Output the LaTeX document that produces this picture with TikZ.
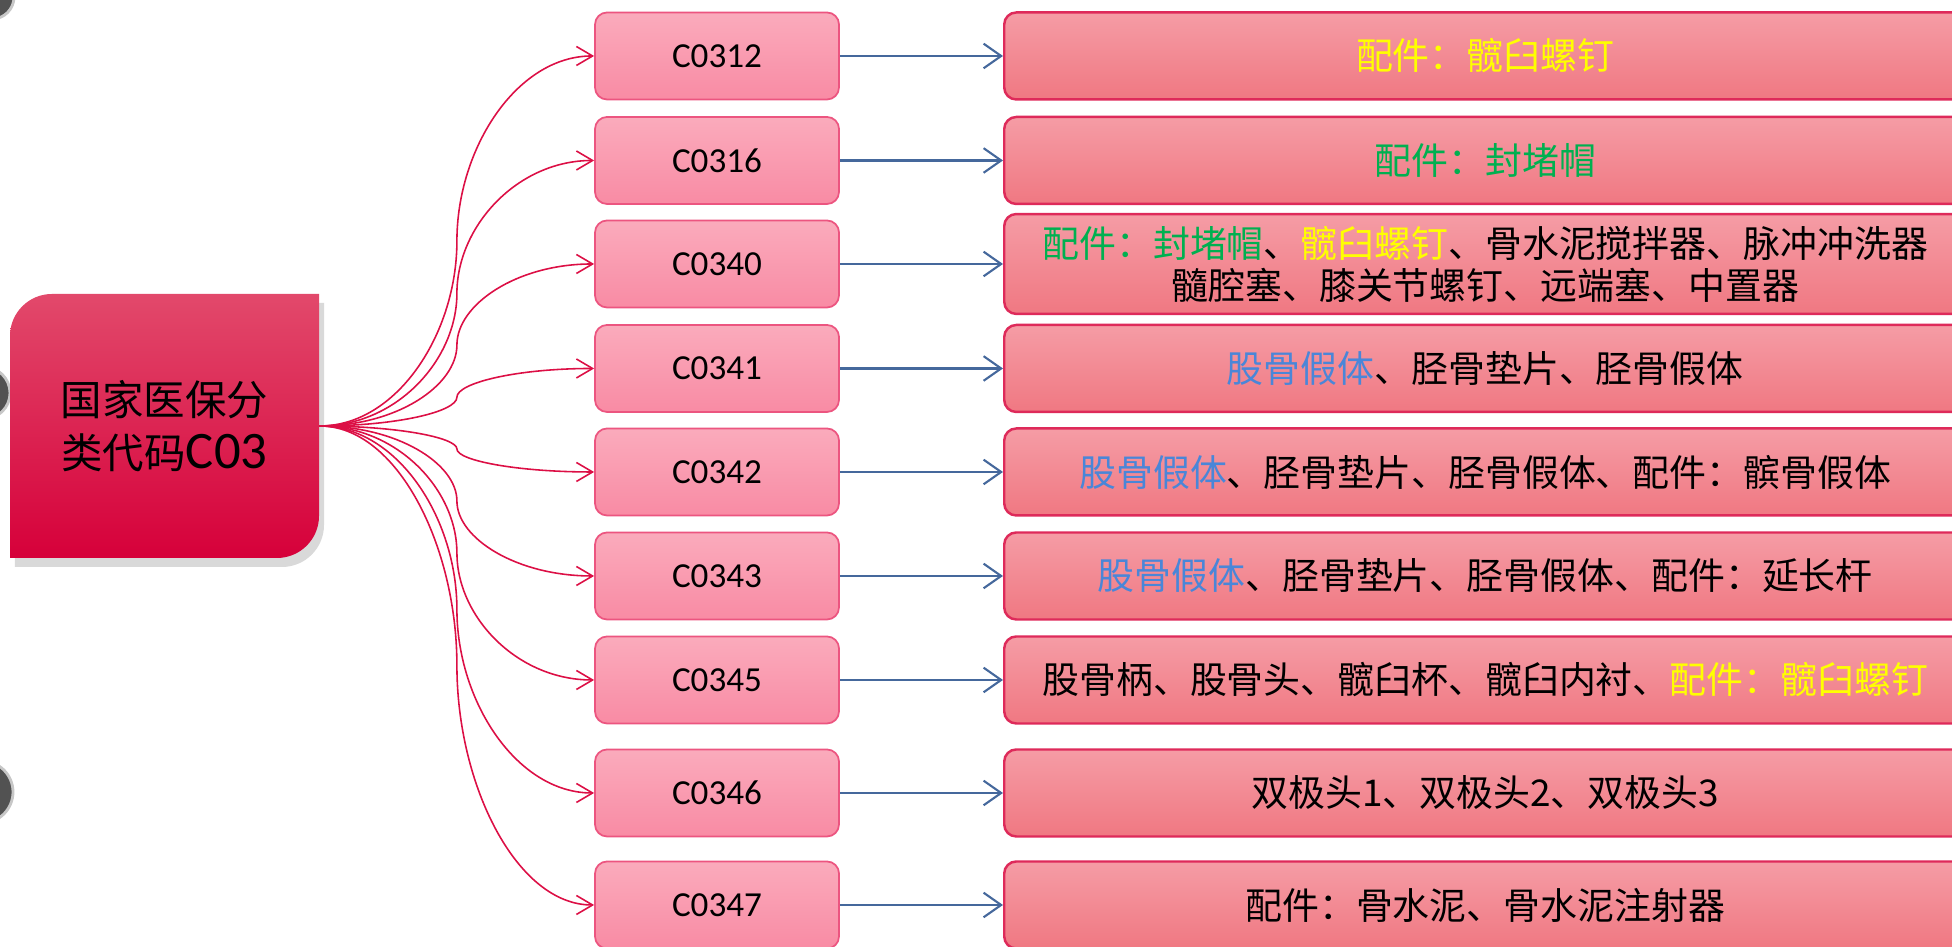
\documentclass[tikz,border=0pt]{standalone}
\usepackage{fontspec}
\usetikzlibrary{arrows.meta,calc,shadows}
\newfontfamily\cjkfont{Noto Sans CJK SC}
\newfontfamily\codefont{Carlito}
\definecolor{rootTop}{HTML}{E2496B}
\definecolor{rootBot}{HTML}{D6003A}
\definecolor{codeTop}{HTML}{FAABBC}
\definecolor{codeBot}{HTML}{F98BA4}
\definecolor{codeLine}{HTML}{EC5580}
\definecolor{itemTop}{HTML}{F59CA5}
\definecolor{itemBot}{HTML}{F07882}
\definecolor{itemLine}{HTML}{DE2A5A}
\definecolor{linkRed}{HTML}{DC0F45}
\definecolor{linkBlue}{HTML}{45689C}
\definecolor{accYellow}{HTML}{FFFF00}
\definecolor{accGreen}{HTML}{00B050}
\definecolor{accBlue}{HTML}{4A86D8}
\tikzset{
	codebox/.style={draw=codeLine, line width=0.5pt, rounded corners=1.2mm,
		top color=codeTop, bottom color=codeBot,
		minimum width=24.4mm, minimum height=8.7mm,
		font=\codefont\fontsize{10}{12}\selectfont},
	itembox/.style={draw=itemLine, line width=0.7pt, rounded corners=1.2mm,
		top color=itemTop, bottom color=itemBot, anchor=west, align=center,
		minimum width=96.2mm, minimum height=8.7mm,
		font=\cjkfont\fontsize{10.5}{12}\selectfont},
	branch/.style={draw=linkRed, line width=0.45pt, -{Straight Barb[length=4.6pt,width=5.4pt]},
		to path={let \p1=(\tikztostart), \p2=(\tikztotarget), \p3=($(\p1)!0.5!(\p2)$) in
			.. controls (\x1+22pt,\y1) and (\x3,\y1/2+\y3/2) .. (\p3)
			.. controls (\x3,\y3/2+\y2/2) and (\x2-22pt,\y2) .. (\p2)}},
	link/.style={draw=linkBlue, line width=0.6pt, -{Straight Barb[length=5pt,width=7pt]}}
}
\begin{document}
\begin{tikzpicture}[x=0.1mm, y=0.1mm]
		\useasboundingbox (0,0) rectangle (1952,947);
		% dots on the left edge
		\filldraw[fill=black!68, draw=black!22, line width=0.8pt] (-8,950) circle (22);
		\filldraw[fill=black!68, draw=black!22, line width=0.8pt] (-16,554) circle (26);
		\filldraw[fill=black!68, draw=black!22, line width=0.8pt] (-18,155) circle (31);
		% root
		\shade[top color=rootTop, bottom color=rootBot, drop shadow={opacity=0.3, shadow xshift=0.5mm, shadow yshift=-0.9mm}]
			(10,389) -- (10,611) arc[start angle=180, end angle=90, radius=42] -- (319,653) -- (319,431) arc[start angle=0, end angle=-90, radius=42] -- cycle;
		\node[minimum width=30.9mm, minimum height=26.4mm, align=center, font=\cjkfont\fontsize{11.8}{15}\selectfont] (root) at (164.5,521) {国家医保分\\类代码{\codefont\fontsize{15}{15}\selectfont C03}};
		% codes
		\node[codebox] (c0312) at (717,891) {C0312};
		\node[codebox] (c0316) at (717,786.5) {C0316};
		\node[codebox] (c0340) at (717,683) {C0340};
		\node[codebox] (c0341) at (717,578.5) {C0341};
		\node[codebox] (c0342) at (717,475) {C0342};
		\node[codebox] (c0343) at (717,371) {C0343};
		\node[codebox] (c0345) at (717,267) {C0345};
		\node[codebox] (c0346) at (717,154) {C0346};
		\node[codebox] (c0347) at (717,42) {C0347};
		% items
		\node[itembox] (t0312) at (1003,891) {\textcolor{accYellow}{配件：髋臼螺钉}};
		\node[itembox] (t0316) at (1003,786.5) {\textcolor{accGreen}{配件：封堵帽}};
		\node[itembox] (t0340) at (1003,683) {\textcolor{accGreen}{配件：封堵帽}、\textcolor{accYellow}{髋臼螺钉}、骨水泥搅拌器、脉冲冲洗器\\髓腔塞、膝关节螺钉、远端塞、中置器};
		\node[itembox] (t0341) at (1003,578.5) {\textcolor{accBlue}{股骨假体}、胫骨垫片、胫骨假体};
		\node[itembox] (t0342) at (1003,475) {\textcolor{accBlue}{股骨假体}、胫骨垫片、胫骨假体、配件：髌骨假体};
		\node[itembox] (t0343) at (1003,371) {\textcolor{accBlue}{股骨假体}、胫骨垫片、胫骨假体、配件：延长杆};
		\node[itembox] (t0345) at (1003,267) {股骨柄、股骨头、髋臼杯、髋臼内衬、\textcolor{accYellow}{配件：髋臼螺钉}};
		\node[itembox] (t0346) at (1003,154) {双极头1、双极头2、双极头3};
		\node[itembox] (t0347) at (1003,42) {配件：骨水泥、骨水泥注射器};
		% branches
		\draw[branch] (root.east) to (c0312.west);
		\draw[branch] (root.east) to (c0316.west);
		\draw[branch] (root.east) to (c0340.west);
		\draw[branch] (root.east) to (c0341.west);
		\draw[branch] (root.east) to (c0342.west);
		\draw[branch] (root.east) to (c0343.west);
		\draw[branch] (root.east) to (c0345.west);
		\draw[branch] (root.east) to (c0346.west);
		\draw[branch] (root.east) to (c0347.west);
		% links
		\draw[link] (c0312) -- (t0312);
		\draw[link] (c0316) -- (t0316);
		\draw[link] (c0340) -- (t0340);
		\draw[link] (c0341) -- (t0341);
		\draw[link] (c0342) -- (t0342);
		\draw[link] (c0343) -- (t0343);
		\draw[link] (c0345) -- (t0345);
		\draw[link] (c0346) -- (t0346);
		\draw[link] (c0347) -- (t0347);
	\end{tikzpicture}
\end{document}
